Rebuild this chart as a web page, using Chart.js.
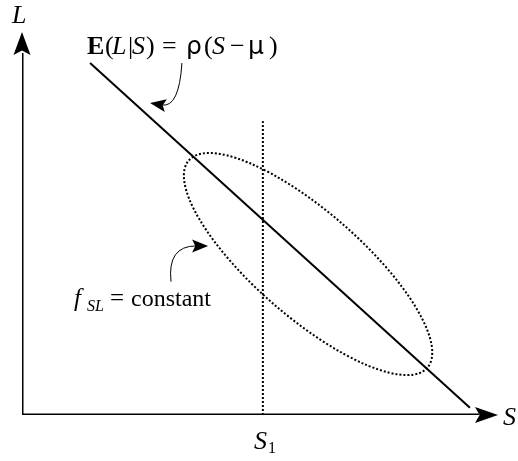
<!DOCTYPE html>
<html>
<head>
<meta charset="utf-8">
<script src="https://cdn.jsdelivr.net/npm/chart.js@4/dist/chart.umd.min.js"></script>
<style>
  html, body { margin: 0; padding: 0; background: #fff; }
  #wrap { width: 518px; height: 461px; position: relative; }
</style>
</head>
<body>
<div id="wrap"><canvas id="diagram"></canvas></div>
<script>
// diagram units: S along x, L along y (about 47.6 px per unit)
const sRange = [0, 10];
const lRange = [0, 8];
const sAxis = [[0, 0], [9.6, 0]];
const lAxis = [[0, 0], [0, 7.6]];
const regression = [[1.43, 7.39], [9.41, 0.15]];
const s1Line = [[5.06, 0], [5.06, 6.17]];
const ellipseCenter = [6.01, 3.17];
const ellipseAxes = [3.32, 1.11];
const ellipseTilt = 41; // degrees, down to the right
// curved pointers: start, control, tip
const formulaPointer = [[3.36, 7.39], [3.30, 6.45], [2.69, 6.55]];
const contourPointer = [[3.13, 2.80], [3.05, 3.55], [3.91, 3.55]];

const toXY = pts => pts.map(p => ({ x: p[0], y: p[1] }));

function arrowHead(ctx, fromX, fromY, tipX, tipY, len, half) {
  const ang = Math.atan2(tipY - fromY, tipX - fromX);
  ctx.save();
  ctx.translate(tipX, tipY);
  ctx.rotate(ang);
  ctx.beginPath();
  ctx.moveTo(0, 0);
  ctx.lineTo(-len, -half);
  ctx.lineTo(-len * 0.8, 0);
  ctx.lineTo(-len, half);
  ctx.closePath();
  ctx.fill();
  ctx.restore();
}

const extras = {
  id: 'extras',
  afterDatasetsDraw(chart) {
    const ctx = chart.ctx;
    const xs = chart.scales.x, ys = chart.scales.y;
    const px = v => xs.getPixelForValue(v);
    const py = v => ys.getPixelForValue(v);
    const unit = px(1) - px(0);
    ctx.save();
    ctx.fillStyle = '#000';
    ctx.strokeStyle = '#000';

    // axis arrowheads
    arrowHead(ctx, px(0), py(0), px(sRange[1]), py(0), 23, 8);
    arrowHead(ctx, px(0), py(0), px(0), py(lRange[1]) - 2, 23, 8.5);

    // contour ellipse
    ctx.setLineDash([2, 2]);
    ctx.lineWidth = 2;
    ctx.beginPath();
    ctx.ellipse(px(ellipseCenter[0]), py(ellipseCenter[1]),
      ellipseAxes[0] * unit, ellipseAxes[1] * unit,
      ellipseTilt * Math.PI / 180, 0, Math.PI * 2);
    ctx.stroke();
    ctx.setLineDash([]);

    // curved pointers
    [formulaPointer, contourPointer].forEach(p => {
      const [s, c, t] = p.map(q => [px(q[0]), py(q[1])]);
      const ang = Math.atan2(t[1] - c[1], t[0] - c[0]);
      const endX = t[0] - Math.cos(ang) * 12, endY = t[1] - Math.sin(ang) * 12;
      ctx.lineWidth = 1;
      ctx.beginPath();
      ctx.moveTo(s[0], s[1]);
      ctx.quadraticCurveTo(c[0], c[1], endX, endY);
      ctx.stroke();
      arrowHead(ctx, c[0], c[1], t[0], t[1], 16, 6.5);
    });

    // labels
    ctx.textBaseline = 'alphabetic';
    const serif = '"Liberation Serif", "Times New Roman", serif';
    const sans = '"DejaVu Sans", sans-serif';
    const put = (txt, style, size, x, y, fam) => {
      ctx.font = style + ' ' + size + 'px ' + (fam || serif);
      ctx.fillText(txt, x, y);
    };
    put('L', 'italic', 26, 12, 23);
    put('S', 'italic', 26, 503, 425);
    put('S', 'italic', 26, 254, 449);
    put('1', 'normal', 16, 268, 453);

    const formula = [
      ['E', 'bold', 87], ['(', 'normal', 105], ['L', 'italic', 112],
      ['|', 'normal', 128], ['S', 'italic', 132], [')', 'normal', 146],
      ['=', 'normal', 162], ['\u03C1', 'normal', 186, sans], ['(', 'normal', 204],
      ['S', 'italic', 212], ['\u2212', 'normal', 230], ['\u03BC', 'normal', 248, sans],
      [')', 'normal', 269]
    ];
    formula.forEach(f => put(f[0], f[1], f[3] ? 25 : 26, f[2], 54, f[3]));

    put('f', 'italic', 25, 74, 306);
    put('SL', 'italic', 16, 87, 311);
    put('=', 'normal', 25, 110, 306);
    put('constant', 'normal', 24, 131, 306);
    ctx.restore();
  }
};

new Chart(document.getElementById('diagram'), {
  type: 'scatter',
  data: {
    datasets: [
      { data: toXY(sAxis), showLine: true, borderColor: '#000', borderWidth: 3, pointRadius: 0 },
      { data: toXY(lAxis), showLine: true, borderColor: '#000', borderWidth: 3, pointRadius: 0 },
      { data: toXY(regression), showLine: true, borderColor: '#000', borderWidth: 2, pointRadius: 0 },
      { data: toXY(s1Line), showLine: true, borderColor: '#000', borderWidth: 2, borderDash: [2, 2], pointRadius: 0 }
    ]
  },
  options: {
    responsive: true,
    maintainAspectRatio: false,
    animation: false,
    layout: { padding: { left: 22, right: 20, top: 34, bottom: 46 } },
    plugins: { legend: { display: false }, tooltip: { enabled: false } },
    scales: {
      x: { type: 'linear', min: sRange[0], max: sRange[1], display: false },
      y: { type: 'linear', min: lRange[0], max: lRange[1], display: false }
    }
  },
  plugins: [extras]
});
</script>
</body>
</html>
